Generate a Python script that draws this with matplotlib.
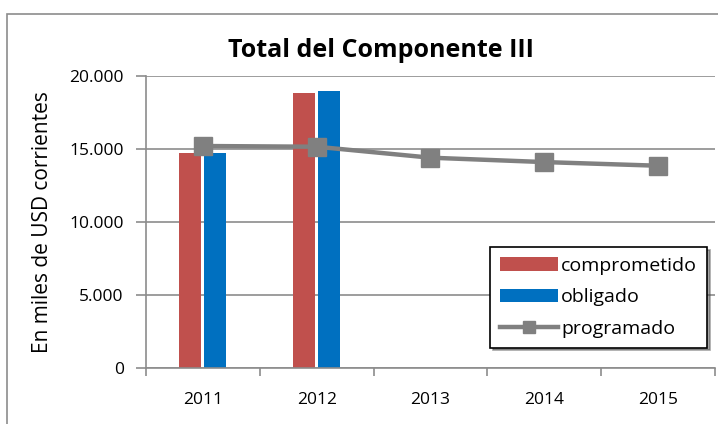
import numpy as np
import matplotlib.pyplot as plt
from matplotlib.patches import Rectangle

years = ['2011', '2012', '2013', '2014', '2015']
comprometido = [14750, 18850, 0, 0, 0]
obligado = [14750, 18950, 0, 0, 0]
programado = [15200, 15150, 14400, 14100, 13850]

plt.rcParams['font.family'] = ['Open Sans', 'DejaVu Sans']

fig = plt.figure(figsize=(7.18, 4.24), dpi=100)
ax = fig.add_axes([0.2033, 0.132, 0.7925, 0.689])

# outer chart frame
fig.patches.append(Rectangle((7 / 718, -0.1), 1.2, 1 - 14 / 424 + 0.1,
                             transform=fig.transFigure, fill=False,
                             edgecolor='#8c8c8c', linewidth=1.2))

ind = np.arange(len(years))
w = 0.195
ax.bar(ind - 0.11, comprometido, width=w, color='#C0504D',
       label='comprometido', zorder=2)
ax.bar(ind + 0.11, obligado, width=w, color='#0070C0',
       label='obligado', zorder=2)
ax.plot(ind, programado, color='#808080', linewidth=3.2, marker='s',
        markersize=13, label='programado', zorder=3)

ax.set_xlim(-0.5, 4.5)
ax.set_ylim(0, 20000)
ax.set_yticks(np.arange(0, 20001, 5000))
ax.set_yticklabels(['0', '5.000', '10.000', '15.000', '20.000'])
ax.set_xticks(ind)
ax.set_xticklabels(years)
ax.set_xticks(np.arange(-0.5, 4.6, 1), minor=True)
ax.tick_params(axis='x', which='major', length=0, pad=17, labelsize=12.5)
ax.tick_params(axis='x', which='minor', length=6, color='#8c8c8c', width=1.2)
ax.tick_params(axis='y', length=7, color='#8c8c8c', width=1.2, labelsize=12.5,
               pad=9)
ax.grid(True, axis='y', color='#8c8c8c', linewidth=1.2, zorder=0)
ax.set_axisbelow(True)
for s in ['top', 'right']:
    ax.spines[s].set_visible(False)
for s in ['left', 'bottom']:
    ax.spines[s].set_color('#8c8c8c')
    ax.spines[s].set_linewidth(1.2)

ax.set_ylabel('En miles de USD corrientes', fontsize=15, labelpad=12)
fig.text(0.53, 0.882, 'Total del Componente III', ha='center', va='center',
         fontsize=18, fontweight='bold')

handles, labels = ax.get_legend_handles_labels()
order = [1, 2, 0]
leg = ax.legend([handles[i] for i in order], [labels[i] for i in order],
                loc='lower right', bbox_to_anchor=(0.986, 0.07),
                fontsize=14, frameon=True, fancybox=False, shadow=True,
                borderpad=0.5, labelspacing=0.7, handlelength=3.0,
                handletextpad=0.15, borderaxespad=0)
leg.get_frame().set_edgecolor('black')
leg.get_frame().set_linewidth(1.2)
for line in leg.get_lines():
    line.set_markersize(9)

plt.savefig('out.png', dpi=100)
